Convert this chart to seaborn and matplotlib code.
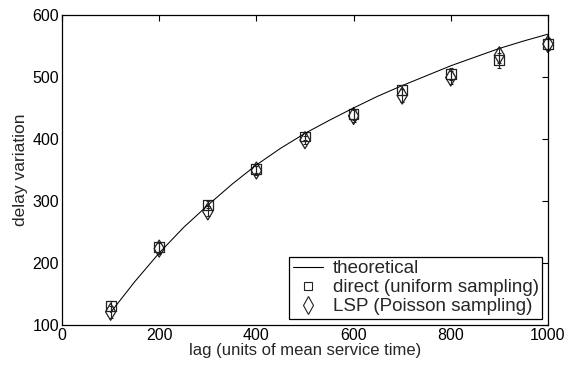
import matplotlib
matplotlib.use("Agg")
import matplotlib.pyplot as plt
import seaborn as sns
import pandas as pd
from matplotlib.lines import Line2D
from matplotlib.markers import MarkerStyle

# ---- data ----
theory_lag = [100, 150, 200, 250, 300, 350, 400, 450, 500, 550, 600, 650, 700, 750, 800, 850, 900, 950, 1000]
theory_val = [120, 170, 216, 257, 293, 327, 358, 385, 409, 430, 450, 469, 486, 502, 518, 532, 546, 558, 569]

lags = [100, 200, 300, 400, 500, 600, 700, 800, 900, 1000]
direct = [131, 225, 294, 351, 404, 440, 479, 505, 527, 553]
direct_err = [8, 9, 6, 6, 6, 9, 8, 10, 12, 10]
lsp = [121, 223, 283, 349, 398, 437, 470, 499, 535, 553]
lsp_err = [10, 9, 8, 7, 7, 9, 10, 10, 12, 10]

xticks = [0, 200, 400, 600, 800, 1000]
yticks = [100, 200, 300, 400, 500, 600]

sns.set_style("white")
plt.rcParams['font.family'] = ['Liberation Sans', 'DejaVu Sans']

fig = plt.figure(figsize=(5.69, 3.65), dpi=100)
ax = fig.add_axes([0.109, 0.110, 0.854, 0.849])

th = pd.DataFrame({"lag": theory_lag, "val": theory_val})
dd = pd.DataFrame({"lag": lags, "val": direct, "err": direct_err})
ld = pd.DataFrame({"lag": lags, "val": lsp, "err": lsp_err})

sns.lineplot(data=th, x="lag", y="val", ax=ax, color="black", linewidth=0.75)

for df in (dd, ld):
    eb = ax.errorbar(df["lag"], df["val"], yerr=df["err"], fmt="none",
                     ecolor="#222222", elinewidth=0.8, capsize=1.5, capthick=0.8)
    for c in eb.get_children():
        c.set_clip_on(False)

sns.scatterplot(data=dd, x="lag", y="val", ax=ax, marker="s", s=50,
                facecolors="none", edgecolor="#222222", linewidth=0.9)
sns.scatterplot(data=ld, x="lag", y="val", ax=ax, marker="D", s=50,
                facecolors="none", edgecolor="#222222", linewidth=0.9)
thin = MarkerStyle("d")
ax.collections[-1].set_paths([thin.get_path().transformed(thin.get_transform())])
ax.collections[-1].set_sizes([75])
for c in ax.collections:
    c.set_clip_on(False)

ax.set_xlim(0, 1000)
ax.set_ylim(100, 600)
ax.set_xticks(xticks)
ax.set_yticks(yticks)
ax.set_xlabel("lag (units of mean service time)", fontsize=12, labelpad=0)
ax.set_ylabel("delay variation", fontsize=12.5, labelpad=3)
ax.tick_params(direction="in", length=4, width=0.8, top=True, right=True,
               labelsize=11.5, pad=2, colors="black")
for s in ax.spines.values():
    s.set_visible(True)
    s.set_color("black")
    s.set_linewidth(0.9)

handles = [
    Line2D([], [], color="black", linewidth=0.8),
    Line2D([], [], linestyle="none", marker="s", markersize=6, markerfacecolor="none",
           markeredgecolor="#222222", markeredgewidth=0.8),
    Line2D([], [], linestyle="none", marker="d", markersize=9, markerfacecolor="none",
           markeredgecolor="#222222", markeredgewidth=0.8),
]
labels = ["theoretical", "direct (uniform sampling)", "LSP (Poisson sampling)"]
leg = ax.legend(handles, labels, loc="lower right", fontsize=13.5, frameon=True,
                fancybox=False, edgecolor="black", framealpha=1, borderpad=0.2,
                labelspacing=0.1, handlelength=1.6, handletextpad=0.5,
                borderaxespad=0.3)
leg.get_frame().set_linewidth(0.9)
leg.set_zorder(5)

fig.savefig("out.png", dpi=100)
